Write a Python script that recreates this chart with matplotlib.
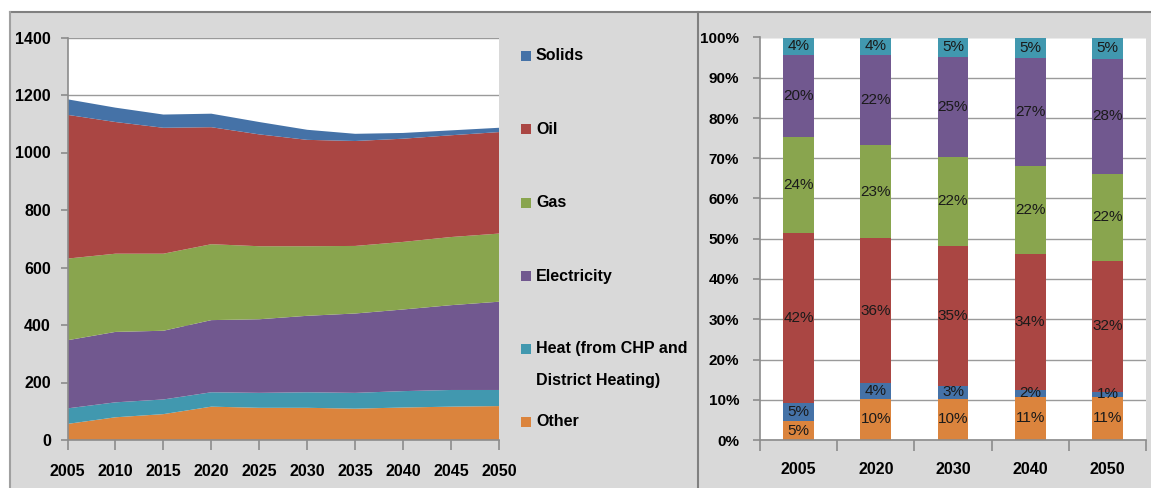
import matplotlib
matplotlib.use('Agg')
import matplotlib.pyplot as plt
from matplotlib.patches import Rectangle
from matplotlib.lines import Line2D
import numpy as np

plt.rcParams['font.family'] = ['Liberation Sans', 'DejaVu Sans']

# ---------------------------------------------------------------
# Left chart: final energy demand by fuel (stacked area)
years = [2005, 2010, 2015, 2020, 2025, 2030, 2035, 2040, 2045, 2050]
other = [56, 79, 90, 116, 112, 112, 109, 113, 116, 118]
heat = [54, 52, 51, 50, 52, 54, 55, 57, 58, 56]
electricity = [237, 245, 239, 251, 256, 266, 276, 284, 295, 307]
gas = [284, 272, 268, 264, 254, 242, 235, 235, 237, 237]
oil = [500, 458, 438, 407, 389, 370, 365, 359, 354, 353]
solids = [54, 50, 46, 47, 43, 35, 25, 20, 17, 15]

# Right chart: shares by fuel (100% stacked bars)
bar_years = ['2005', '2020', '2030', '2040', '2050']
sh_other = [4.6, 10.2, 10.2, 10.8, 10.8]
sh_solids = [4.6, 4.0, 3.3, 1.6, 1.2]
sh_oil = [42.3, 35.9, 34.7, 33.7, 32.4]
sh_gas = [23.9, 23.2, 22.2, 21.9, 21.8]
sh_elec = [20.2, 22.3, 24.7, 26.8, 28.4]
sh_heat = [4.4, 4.4, 4.9, 5.2, 5.4]

legend_labels = ['Solids', 'Oil', 'Gas', 'Electricity',
                 'Heat (from CHP and\nDistrict Heating)', 'Other']

c_solids = '#4572a7'
c_oil = '#aa4643'
c_gas = '#89a54e'
c_elec = '#71588f'
c_heat = '#4198af'
c_other = '#db843d'

W, H = 1151, 488
fig = plt.figure(figsize=(W / 100, H / 100), dpi=100)
fig.patch.set_facecolor('white')

# grey panels behind the two charts
fig.patches.append(Rectangle((10 / W, 0), (697 - 10) / W, (H - 12) / H,
                             transform=fig.transFigure, facecolor='#d9d9d9',
                             edgecolor='none', zorder=-10))
fig.patches.append(Rectangle((698 / W, 0), (W - 698) / W, (H - 12) / H,
                             transform=fig.transFigure, facecolor='#d9d9d9',
                             edgecolor='none', zorder=-10))
fig.lines.append(Line2D([10 / W, 1], [1 - 12 / H, 1 - 12 / H], transform=fig.transFigure,
                        color='#808080', lw=1.5))
fig.lines.append(Line2D([10 / W, 10 / W], [0, 1 - 12 / H], transform=fig.transFigure,
                        color='#a0a0a0', lw=1.5))
fig.lines.append(Line2D([697.5 / W, 697.5 / W], [0, 1 - 12 / H], transform=fig.transFigure,
                        color='#808080', lw=1.5))

# ---------------------------------------------------------------
ax1 = fig.add_axes([67.5 / W, 1 - 440 / H, (499 - 67.5) / W, (440 - 37.5) / H])
ax1.set_facecolor('white')
ax1.stackplot(years, other, heat, electricity, gas, oil, solids,
              colors=[c_other, c_heat, c_elec, c_gas, c_oil, c_solids],
              linewidth=0, zorder=2)
ax1.set_xlim(2005, 2050)
ax1.set_ylim(0, 1400)
ax1.set_xticks(years)
ax1.set_yticks(np.arange(0, 1401, 200))
ax1.grid(axis='y', color='#9a9a9a', lw=1, zorder=1)
ax1.set_axisbelow(True)
for s in ['top', 'right']:
    ax1.spines[s].set_visible(False)
for s in ['left', 'bottom']:
    ax1.spines[s].set_color('#8c8c8c')
    ax1.spines[s].set_linewidth(1.2)
ax1.tick_params(axis='x', length=7, width=1.2, color='#8c8c8c', pad=10,
                labelsize=11.5)
ax1.tick_params(axis='y', length=5, width=1.2, color='#8c8c8c', pad=7,
                labelsize=11.5)
for lab in ax1.get_xticklabels() + ax1.get_yticklabels():
    lab.set_fontweight('bold')

# legend drawn by hand to match the spacing of the original
leg_colors = [c_solids, c_oil, c_gas, c_elec, c_heat, c_other]
leg_y = [56, 129, 203, 276, 349, 422]
for lab, col, yy in zip(legend_labels, leg_colors, leg_y):
    fig.patches.append(Rectangle((521 / W, 1 - (yy + 5) / H), 10 / W, 10 / H,
                                 transform=fig.transFigure, facecolor=col,
                                 edgecolor='none'))
    for k, line in enumerate(lab.split('\n')):
        fig.text(536 / W, 1 - (yy + 31 * k) / H, line, ha='left', va='center',
                 fontsize=11.5, fontweight='bold')

# ---------------------------------------------------------------
ax2 = fig.add_axes([760 / W, 1 - 440 / H, (1146 - 760) / W, (440 - 37.5) / H])
ax2.set_facecolor('white')
x = np.arange(len(bar_years))
series = [(sh_other, c_other), (sh_solids, c_solids), (sh_oil, c_oil),
          (sh_gas, c_gas), (sh_elec, c_elec), (sh_heat, c_heat)]
bottom = np.zeros(len(bar_years))
for vals, col in series:
    vals = np.array(vals)
    ax2.bar(x, vals, 0.4, bottom=bottom, color=col, zorder=2)
    for xi, b, v in zip(x, bottom, vals):
        ax2.text(xi, b + v / 2, f'{v:.0f}%', ha='center', va='center',
                 fontsize=11, color='#1a1a1a', zorder=3)
    bottom = bottom + vals

ax2.set_xlim(-0.5, len(bar_years) - 0.5)
ax2.set_ylim(0, 100)
ax2.set_yticks(np.arange(0, 101, 10))
ax2.set_yticklabels([f'{v}%' for v in range(0, 101, 10)])
ax2.set_xticks(x)
ax2.set_xticklabels(bar_years)
ax2.set_xticks(np.arange(-0.5, len(bar_years)), minor=True)
ax2.grid(axis='y', color='#9a9a9a', lw=1, zorder=1)
ax2.set_axisbelow(True)
for s in ['top', 'right']:
    ax2.spines[s].set_visible(False)
for s in ['left', 'bottom']:
    ax2.spines[s].set_color('#8c8c8c')
    ax2.spines[s].set_linewidth(1.2)
ax2.tick_params(axis='x', which='major', length=0, pad=16, labelsize=11.5)
ax2.tick_params(axis='x', which='minor', length=8, width=1.2, color='#8c8c8c')
ax2.tick_params(axis='y', length=5, width=1.2, color='#8c8c8c', pad=10,
                labelsize=11)
for lab in ax2.get_xticklabels() + ax2.get_yticklabels():
    lab.set_fontweight('bold')

fig.savefig('out.png', dpi=100)
